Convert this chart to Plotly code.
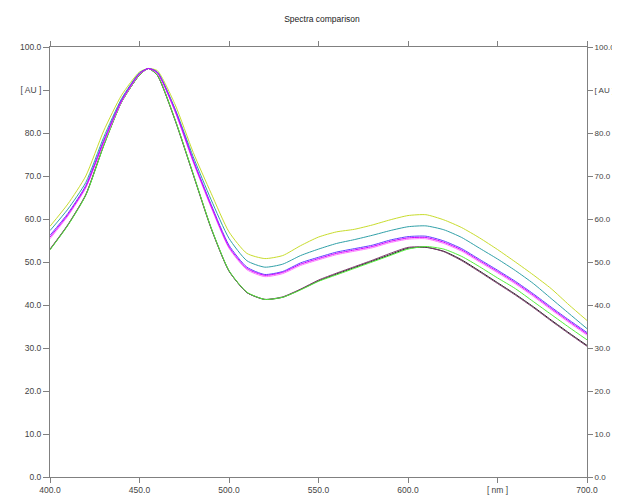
import plotly.graph_objects as go

wavelength = [400, 410, 420, 430, 440, 450, 455, 460, 470, 480, 490, 500, 510, 520, 530, 540,
              550, 560, 570, 580, 590, 600, 610, 620, 630, 640, 650, 660, 670, 680, 690, 700]

yellow = [58.3, 63.5, 70.0, 80.5, 88.8, 94.2, 95.0, 94.5, 86.5, 75.5, 66.0, 57.0, 52.0, 50.8, 51.5, 53.8,
          55.8, 57.0, 57.6, 58.6, 59.8, 60.8, 61.0, 59.8, 58.0, 55.6, 52.9, 50.0, 47.0, 43.8, 40.0, 36.4]
teal = [57.3, 62.3, 68.5, 79.0, 88.0, 94.0, 95.0, 94.2, 85.5, 74.5, 64.5, 55.5, 50.3, 48.8, 49.5, 51.5,
        53.0, 54.3, 55.2, 56.2, 57.3, 58.2, 58.4, 57.5, 55.7, 53.2, 50.7, 48.0, 45.0, 41.5, 38.0, 34.5]
blue = [56.2, 61.3, 67.8, 78.3, 87.7, 93.9, 95.0, 94.1, 85.3, 73.8, 63.4, 53.9, 48.8, 47.1, 47.8, 49.8,
        51.1, 52.3, 53.1, 53.9, 55.1, 55.9, 56.0, 54.9, 53.1, 50.6, 48.1, 45.5, 42.6, 39.5, 36.5, 33.6]
pink = [55.4, 60.7, 67.2, 77.7, 87.3, 93.7, 95.0, 93.9, 84.8, 73.2, 62.7, 53.2, 48.2, 46.6, 47.3, 49.2,
        50.5, 51.7, 52.5, 53.3, 54.5, 55.3, 55.4, 54.3, 52.5, 50.0, 47.5, 44.9, 42.0, 38.9, 35.9, 33.0]
magenta = [55.8, 61.0, 67.5, 78.0, 87.5, 93.8, 95.0, 94.0, 85.0, 73.5, 63.0, 53.5, 48.5, 46.9, 47.6, 49.5,
           50.8, 52.0, 52.8, 53.6, 54.8, 55.6, 55.7, 54.6, 52.8, 50.3, 47.8, 45.2, 42.3, 39.2, 36.2, 33.3]
green = [52.8, 58.5, 65.5, 77.0, 87.2, 93.5, 95.0, 93.5, 83.0, 70.5, 58.0, 48.0, 43.0, 41.3, 41.8, 43.5,
         45.5, 47.0, 48.5, 50.0, 51.5, 53.0, 53.6, 53.0, 51.3, 48.9, 46.3, 43.8, 40.8, 37.8, 34.8, 31.9]
maroon = [53.0, 58.7, 65.7, 77.2, 87.3, 93.5, 95.0, 93.4, 82.8, 70.3, 57.8, 47.9, 42.9, 41.3, 41.9, 43.7,
          45.8, 47.4, 48.9, 50.4, 52.0, 53.4, 53.5, 52.4, 50.3, 47.7, 45.0, 42.3, 39.4, 36.3, 33.3, 30.4]
black = [52.9, 58.6, 65.6, 77.1, 87.2, 93.5, 95.0, 93.4, 82.9, 70.4, 57.9, 47.9, 42.9, 41.3, 41.8, 43.6,
         45.6, 47.2, 48.7, 50.2, 51.7, 53.2, 53.4, 52.5, 50.5, 47.9, 45.2, 42.5, 39.6, 36.5, 33.5, 30.6]

series = [
    ("yellow", yellow, "#c8dc2c"),
    ("teal", teal, "#30a0a8"),
    ("black", black, "#202020"),
    ("maroon", maroon, "#7c3c6c"),
    ("green", green, "#50f038"),
    ("pink", pink, "#ff78ff"),
    ("blue", blue, "#6040ff"),
    ("magenta", magenta, "#d000ff"),
]

x_tickvals = [400, 450, 500, 550, 600, 650, 700]
x_ticktext = ["400.0", "450.0", "500.0", "550.0", "600.0", "[ nm ]", "700.0"]
y_tickvals = [0, 10, 20, 30, 40, 50, 60, 70, 80, 90, 100]
y_ticktext = ["0.0", "10.0", "20.0", "30.0", "40.0", "50.0", "60.0", "70.0", "80.0", "[ AU ]", "100.0"]

fig = go.Figure()
for name, vals, col in series:
    fig.add_trace(go.Scatter(x=wavelength, y=vals, mode="lines", name=name,
                             line=dict(color=col, width=1, shape="spline", smoothing=0.6)))
# invisible trace for right axis
fig.add_trace(go.Scatter(x=[400, 700], y=[0, 100], yaxis="y2", mode="markers",
                         marker=dict(opacity=0), showlegend=False, hoverinfo="skip"))

axis_font = dict(family="Liberation Sans, Arial, sans-serif", size=8.5, color="#444444")
right_font = dict(family="Liberation Sans, Arial, sans-serif", size=8, color="#444444")
fig.update_layout(
    width=612, height=491,
    margin=dict(l=42, r=33, t=39, b=22),
    paper_bgcolor="white", plot_bgcolor="white",
    showlegend=False,
    title=dict(text="Spectra comparison", x=0.513, xanchor="center", y=0.977, yanchor="middle",
               font=dict(family="Liberation Sans, Arial, sans-serif", size=8.5, color="#222222")),
    xaxis=dict(range=[400, 700], tickvals=x_tickvals, ticktext=x_ticktext, ticks="outside",
               ticklen=5, tickcolor="#808080", showline=True, linecolor="#808080", linewidth=1,
               mirror="allticks", showgrid=False, zeroline=False, tickfont=axis_font,
               automargin=False),
    yaxis=dict(range=[0, 100], tickvals=y_tickvals, ticktext=y_ticktext, ticks="outside",
               ticklen=6, tickcolor="#808080", showline=True, linecolor="#808080", linewidth=1,
               showgrid=False, zeroline=False, tickfont=axis_font, automargin=False),
    yaxis2=dict(range=[0, 100], tickvals=y_tickvals, ticktext=y_ticktext, ticks="outside",
                ticklen=5, tickcolor="#808080", showline=True, linecolor="#808080", linewidth=1,
                overlaying="y", side="right", showgrid=False, zeroline=False, tickfont=right_font,
                automargin=False),
)

fig.write_html("out.html")
